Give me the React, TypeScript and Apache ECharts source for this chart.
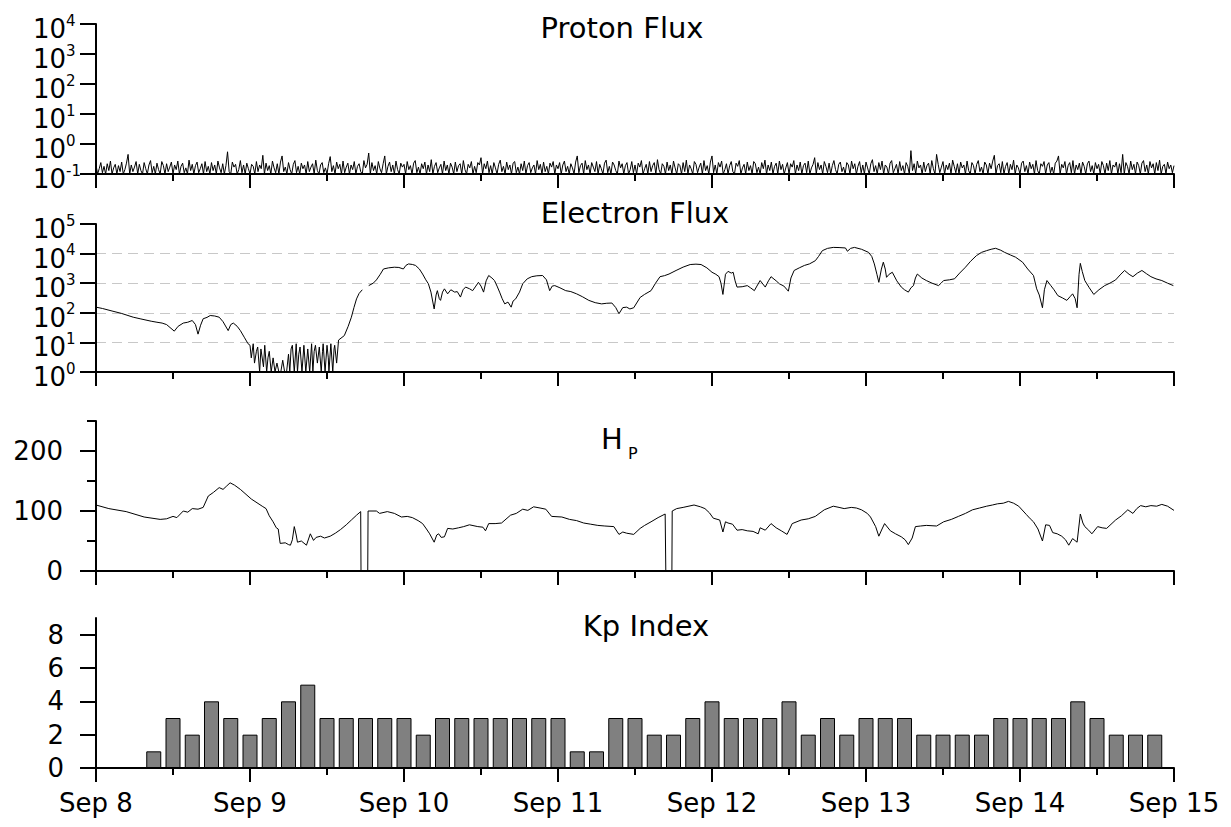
import React, { useEffect, useRef } from 'react';
import * as echarts from 'echarts';

const FONT = '"DejaVu Sans", sans-serif';

// x values are hours after Sep 8 00:00
const dayLabels = ['Sep 8', 'Sep 9', 'Sep 10', 'Sep 11', 'Sep 12', 'Sep 13', 'Sep 14', 'Sep 15'];
const titles = ['Proton Flux', 'Electron Flux', 'H', 'P', 'Kp Index'];

// Proton flux, 15-minute samples starting Sep 8 00:00 (one row = 6 hours)
const protonStep = 0.25;
const protonValues = [
  0.2,0.1,0.15,0.24,0.11,0.18,0.1,0.22,0.13,0.27,0.1,0.16,0.21,0.1,0.19,0.12,0.25,0.1,0.14,0.23,0.45,0.1,0.2,0.12,
  0.17,0.26,0.1,0.21,0.13,0.1,0.24,0.15,0.1,0.2,0.28,0.11,0.18,0.1,0.23,0.14,0.1,0.26,0.19,0.1,0.22,0.12,0.17,0.25,
  0.1,0.2,0.14,0.27,0.1,0.18,0.23,0.11,0.16,0.1,0.29,0.13,0.21,0.1,0.19,0.25,0.11,0.15,0.22,0.1,0.26,0.12,0.18,0.1,
  0.24,0.13,0.2,0.1,0.27,0.16,0.11,0.22,0.1,0.19,0.55,0.12,0.1,0.25,0.17,0.21,0.1,0.14,0.28,0.11,0.2,0.1,0.23,0.15,
  0.1,0.21,0.18,0.1,0.26,0.12,0.2,0.15,0.42,0.1,0.23,0.13,0.19,0.1,0.27,0.16,0.11,0.22,0.1,0.25,0.4,0.12,0.17,0.1,
  0.24,0.14,0.1,0.21,0.28,0.11,0.18,0.1,0.23,0.15,0.2,0.1,0.26,0.12,0.17,0.22,0.1,0.29,0.13,0.1,0.2,0.24,0.11,0.16,
  0.1,0.22,0.38,0.12,0.19,0.1,0.25,0.15,0.21,0.1,0.27,0.11,0.17,0.23,0.1,0.2,0.14,0.26,0.1,0.18,0.22,0.12,0.1,0.28,
  0.16,0.21,0.5,0.1,0.24,0.13,0.19,0.1,0.26,0.15,0.11,0.22,0.4,0.1,0.18,0.25,0.12,0.2,0.1,0.27,0.14,0.1,0.23,0.17,
  0.21,0.1,0.26,0.14,0.19,0.1,0.23,0.28,0.11,0.17,0.1,0.22,0.15,0.25,0.1,0.2,0.12,0.3,0.1,0.18,0.24,0.11,0.16,0.21,
  0.1,0.27,0.13,0.2,0.1,0.23,0.17,0.1,0.25,0.12,0.19,0.22,0.1,0.28,0.14,0.1,0.21,0.16,0.26,0.1,0.18,0.11,0.24,0.2,
  0.35,0.1,0.22,0.15,0.27,0.11,0.19,0.1,0.24,0.16,0.1,0.21,0.29,0.12,0.18,0.1,0.25,0.14,0.2,0.1,0.23,0.26,0.11,0.17,
  0.1,0.22,0.13,0.27,0.1,0.19,0.24,0.11,0.16,0.2,0.1,0.28,0.14,0.21,0.1,0.25,0.12,0.18,0.1,0.23,0.17,0.26,0.1,0.2,
  0.15,0.24,0.1,0.2,0.27,0.12,0.18,0.1,0.22,0.16,0.1,0.25,0.4,0.11,0.19,0.23,0.1,0.28,0.14,0.2,0.1,0.24,0.17,0.12,
  0.26,0.1,0.21,0.15,0.1,0.23,0.29,0.11,0.18,0.1,0.25,0.2,0.13,0.1,0.27,0.16,0.22,0.1,0.19,0.24,0.1,0.14,0.26,0.11,
  0.2,0.1,0.23,0.17,0.28,0.1,0.15,0.21,0.1,0.26,0.12,0.19,0.24,0.1,0.3,0.14,0.1,0.22,0.18,0.1,0.25,0.13,0.2,0.1,
  0.27,0.16,0.1,0.22,0.19,0.1,0.24,0.12,0.29,0.1,0.2,0.15,0.1,0.26,0.21,0.11,0.17,0.23,0.1,0.28,0.13,0.19,0.1,0.25,
  0.4,0.11,0.2,0.1,0.24,0.17,0.27,0.1,0.14,0.22,0.1,0.19,0.26,0.12,0.1,0.23,0.18,0.28,0.1,0.16,0.21,0.1,0.25,0.13,
  0.19,0.1,0.26,0.22,0.11,0.17,0.1,0.24,0.15,0.29,0.1,0.2,0.13,0.25,0.1,0.18,0.23,0.1,0.27,0.14,0.21,0.1,0.16,0.24,
  0.1,0.22,0.17,0.28,0.1,0.2,0.13,0.25,0.1,0.19,0.23,0.11,0.27,0.1,0.16,0.21,0.35,0.1,0.24,0.14,0.2,0.1,0.26,0.18,
  0.11,0.23,0.1,0.19,0.28,0.14,0.1,0.21,0.25,0.12,0.17,0.1,0.24,0.2,0.1,0.27,0.15,0.22,0.1,0.18,0.26,0.11,0.2,0.1,
  0.25,0.16,0.1,0.22,0.3,0.12,0.19,0.1,0.24,0.14,0.27,0.1,0.2,0.17,0.1,0.23,0.28,0.11,0.15,0.21,0.1,0.26,0.13,0.19,
  0.1,0.24,0.18,0.1,0.6,0.13,0.22,0.1,0.27,0.16,0.2,0.1,0.25,0.12,0.19,0.23,0.1,0.28,0.15,0.1,0.45,0.21,0.11,0.17,
  0.26,0.1,0.2,0.14,0.23,0.1,0.29,0.18,0.11,0.22,0.1,0.25,0.16,0.2,0.1,0.27,0.13,0.1,0.24,0.19,0.1,0.21,0.28,0.12,
  0.17,0.1,0.25,0.2,0.1,0.23,0.15,0.27,0.42,0.1,0.19,0.22,0.11,0.26,0.1,0.18,0.24,0.1,0.21,0.14,0.29,0.1,0.2,0.16,
  0.1,0.23,0.27,0.12,0.19,0.1,0.25,0.15,0.21,0.1,0.28,0.13,0.1,0.22,0.18,0.26,0.1,0.2,0.24,0.11,0.17,0.1,0.23,0.27,
  0.4,0.1,0.21,0.16,0.26,0.1,0.19,0.24,0.11,0.28,0.1,0.2,0.14,0.23,0.1,0.25,0.18,0.1,0.22,0.27,0.12,0.19,0.1,0.24,
  0.15,0.21,0.1,0.26,0.19,0.1,0.23,0.13,0.28,0.1,0.2,0.17,0.25,0.1,0.22,0.11,0.45,0.1,0.24,0.18,0.1,0.27,0.14,0.21,
  0.1,0.25,0.19,0.1,0.23,0.28,0.12,0.2,0.1,0.26,0.16,0.22,0.1,0.24,0.13,0.29,0.1,0.18,0.21,0.1,0.25,0.15,0.2,0.11,
  0.19,
];

// Electron flux [hour, flux]; null = data gap
const electronPoints: [number, number | null][] = [
  [0,155],[1,140],[2.5,115],[4,95],[5.8,71],[7,62],[8.6,52],[9.5,48],[10.3,45],[11,40],[12.2,24],[12.8,35],
  [13.6,45],[14.3,48],[15,55],[15.5,40],[15.9,19],[16.3,38],[16.7,63],[17.3,70],[17.8,81],[18.5,78],[19.2,71],
  [19.8,50],[20.6,25],[21,40],[21.4,45],[22,35],[22.5,25],[23.1,15],[23.7,9],
  [24.0,8],[24.2,3],[24.5,9],[24.7,2],[25.0,5],[25.2,7],[25.5,1],[25.7,6],[26.1,1.5],[26.3,8],[26.6,1],[26.8,3],
  [27.0,5],[27.3,1],[27.6,3],[27.9,1],[28.2,2],[28.5,1],[28.8,1],[29.1,2.5],[29.4,1],[29.7,1],[30.0,4],[30.2,1],
  [30.4,6],[30.6,8],[30.9,1],[31.2,9],[31.4,1],[31.6,4],[31.8,7],[32.1,1],[32.4,8],[32.6,2],[32.7,1],[33.0,6],
  [33.3,1],[33.6,9],[33.8,1],[34.0,5],[34.2,8],[34.5,2],[34.8,7],[35.1,1],[35.3,5],[35.4,9],[35.7,1],[36.0,8],
  [36.2,3],[36.3,1],[36.6,9],[36.9,1],[37.1,6],[37.2,8],[37.5,2],
  [37.8,12],[38.7,17],[39.3,35],[39.8,71],[40.2,150],[40.6,295],[41,450],[41.5,600],[42,null],
  [42.5,830],[43.2,1000],[43.7,1290],[44.3,2000],[44.8,3020],[45.6,3300],[46.5,3470],[47.2,3400],[47.9,3020],
  [48.3,4000],[48.7,4470],[49.3,4300],[49.8,3980],[50.4,3000],[50.9,2040],[51.4,1300],[51.8,955],[52.2,500],
  [52.7,135],[53,400],[53.2,560],[53.5,300],[53.7,263],[54,500],[54.3,645],[54.8,437],[55.3,600],[55.9,500],
  [56.3,520],[56.8,340],[57.2,600],[57.6,740],[58.2,650],[58.7,560],[59.2,800],[59.6,1070],[60,800],[60.4,500],
  [60.8,1200],[61.2,1820],[61.7,1500],[62.1,1230],[62.5,800],[62.9,500],[63.3,300],[63.7,200],[64.2,230],
  [64.7,155],[65,250],[65.4,295],[66,500],[66.5,955],[67.2,1400],[67.9,1660],[68.7,1780],[69.6,1820],[70.2,1300],
  [70.7,560],[71.1,800],[71.5,830],[72.3,700],[73.2,560],[74,520],[74.9,437],[75.8,350],[76.8,263],[77.8,220],
  [78.8,200],[79.6,210],[80.4,214],[81,150],[81.5,93],[82.1,150],[82.7,155],[83.2,135],[83.8,148],[84.8,330],
  [85.5,420],[86.5,560],[87.2,1000],[87.9,1660],[88.6,1800],[89.3,2040],[90.4,2690],[91.5,3500],[92.6,4270],
  [93.5,4400],[94.3,4270],[95.2,3300],[96,2340],[96.6,2000],[97.1,1660],[97.4,1000],[97.7,417],[98.1,2000],
  [98.5,2510],[99,2200],[99.3,2340],[99.6,1200],[99.9,740],[100.7,760],[101.5,830],[102,700],[102.6,560],
  [103,800],[103.5,1230],[104.3,740],[104.8,1200],[105.2,1660],[106,1200],[106.5,955],[107.2,800],[107.9,537],
  [108.3,1500],[108.8,2690],[109.6,3300],[110.4,3980],[111.2,4500],[112.1,5750],[112.6,8000],[113.2,12600],
  [114,15000],[114.9,16200],[115.8,16000],[116.8,15500],[117.1,12000],[117.6,15000],[118.2,16200],[119.3,14000],
  [120.4,11000],[120.9,8000],[121.3,4470],[121.7,2000],[122,1070],[122.4,3000],[122.7,5130],[123,3000],
  [123.2,1580],[123.6,2000],[124.1,2340],[124.8,1200],[125.5,740],[126,600],[126.6,500],[127,700],[127.4,830],
  [127.7,1500],[128,2040],[128.7,1500],[129.4,1230],[130.3,1000],[131.3,830],[131.7,1000],[132.1,1230],
  [133,1300],[133.8,1410],[134.6,2200],[135.5,3470],[136.3,5500],[137.2,8510],[138,11000],[138.8,12600],
  [139.5,14000],[140.2,15100],[141,13000],[141.6,11000],[142.5,9000],[143.3,7590],[144.4,5130],[145.2,3020],
  [146.1,1820],[146.6,645],[147,400],[147.5,148],[147.8,600],[148.2,1230],[148.8,830],[149.3,600],[149.9,380],
  [150.6,320],[151.3,263],[151.8,350],[152.2,437],[152.6,300],[152.9,148],[153.2,2000],[153.4,4680],[153.7,2500],
  [154.1,1230],[154.8,700],[155.5,417],[156.3,600],[157.2,830],[158,1000],[158.9,1290],[159.6,1900],[160.3,2690],
  [161,2000],[161.6,1660],[162.3,2200],[163,2690],[163.7,2100],[164.4,1660],[165.2,1400],[166.1,1230],
  [167,1000],[167.9,830],
];

// Hp [hour, nT]
const hpPoints: [number, number][] = [
  [0,110],[2,104],[4.7,99],[7.5,90],[10,86],[11,87],[12,91],[12.6,89],[13.6,100],[14.3,98],[15,104],[15.9,103],
  [16.7,106],[17.5,125],[18.3,131],[19.2,139],[19.8,136],[20.3,141],[20.9,147],[21.6,143],[22.5,136],[24.2,120],
  [25.9,108],[26.5,104],[27,92],[27.6,82],[28.1,72],[28.4,70],[28.7,46],[29.5,47],[30,44],[30.3,43],[30.6,52],
  [30.9,74],[31.2,60],[31.4,48],[32,50],[32.8,43],[33.4,62],[33.9,51],[34.3,56],[35,58],[35.6,55],[36.5,58],
  [37.3,63],[38.1,69],[39,77],[39.8,85],[40.6,93],[41.25,99],[41.3,0],[42.35,0],[42.4,100],[43.7,100],[44.2,96],
  [45.4,99],[46.5,96],[47.6,90],[48.5,91],[49.3,89],[50.2,84],[50.9,79],[51.5,70],[52,62],[52.7,48],[53.1,60],
  [53.4,62],[53.8,56],[54.3,57],[54.8,71],[55.6,70],[56.5,72],[57.3,74],[58.2,77],[59.5,74],[60.3,73],[60.7,67],
  [61.2,79],[62.2,79],[63.2,80],[64.6,93],[65.5,96],[66.5,103],[67.3,101],[68.2,107],[69.2,105],[70.1,103],
  [71,91],[72.6,90],[73.8,86],[74.9,84],[76,80],[77.1,78],[78.2,76],[79.3,75],[80.7,74],[81.5,61],[82.1,65],
  [82.7,63],[83.8,61],[84.8,71],[85.5,76],[86.5,82],[87.6,89],[88.7,95],[88.75,96],[88.8,0],[89.75,0],[89.8,100],
  [90.5,104],[91.5,106],[93.2,110],[94.2,107],[94.9,104],[95.6,97],[96.2,88],[97.2,85],[97.7,65],[98.1,82],
  [98.5,80],[99.2,78],[99.9,68],[100.7,69],[101.5,67],[102.4,66],[103.2,62],[103.5,72],[104.3,68],[105.2,79],
  [106,72],[106.8,67],[107.7,61],[108.5,79],[109.9,85],[111,87],[112.1,91],[113.5,102],[114.9,108],[115.8,106],
  [116.6,104],[117.7,106],[118.5,105],[119.3,102],[120.2,96],[120.7,90],[121.5,74],[122,58],[122.5,70],
  [122.9,79],[123.8,67],[124.6,62],[125.5,57],[126.1,52],[126.6,44],[127.2,55],[127.7,74],[128.5,75],[129.4,76],
  [131,75],[132.1,82],[133.3,86],[134.4,91],[135.5,96],[136.6,102],[137.7,105],[138.8,108],[139.7,110],
  [140.5,112],[141.4,113],[142.2,116],[143,113],[143.8,108],[145,94],[145.6,87],[146.1,82],[146.8,70],[147.5,50],
  [148,77],[148.6,76],[149.1,64],[149.8,62],[150.5,58],[151.1,52],[151.6,43],[152.2,54],[152.9,48],[153.4,95],
  [153.8,80],[154.1,74],[154.7,68],[155.2,62],[156.1,74],[156.8,72],[157.5,71],[158.9,85],[159.8,92],[160.8,102],
  [161.6,96],[162.2,104],[162.8,109],[163.6,107],[164.4,109],[165.3,108],[166.1,111],[167,108],[168,101],
];

// Kp index, 3-hour slots starting Sep 8 00:00 (null = no bar)
const kpStep = 3;
const kpValues: (number | null)[] = [
  null, null, null, 1, 3, 2, 4, 3,
  2, 3, 4, 5, 3, 3, 3, 3,
  3, 2, 3, 3, 3, 3, 3, 3,
  3, 1, 1, 3, 3, 2, 2, 3,
  4, 3, 3, 3, 4, 2, 3, 2,
  3, 3, 3, 2, 2, 2, 2, 3,
  3, 3, 3, 4, 3, 2, 2, 2,
];

const protonRange = [0.1, 10000];
const electronRange = [1, 100000];
const hpMajorTicks = [0, 100, 200];
const hpMinorTicks = [50, 150, 250];
const kpTicks = [0, 2, 4, 6, 8];

const BLACK = '#000';

function buildOption() {
  const grids = [
    { left: 96, top: 24, width: 1078, height: 150 },
    { left: 96, top: 224, width: 1078, height: 148 },
    { left: 96, top: 421, width: 1078, height: 150 },
    { left: 96, top: 618, width: 1078, height: 150 },
  ].map((g) => ({ ...g, containLabel: false, outerBoundsMode: 'none' }));

  const xAxis = grids.map((_, i) => ({
    type: 'value',
    gridIndex: i,
    min: 0,
    max: 168,
    interval: 24,
    axisLine: { show: true, onZero: false, lineStyle: { color: BLACK, width: 2 } },
    axisTick: { show: true, length: 14, lineStyle: { color: BLACK, width: 2 } },
    minorTick: { show: true, splitNumber: 2, length: 7, lineStyle: { color: BLACK, width: 2 } },
    splitLine: { show: false },
    minorSplitLine: { show: false },
    axisLabel:
      i === 3
        ? {
            show: true,
            showMinLabel: true,
            showMaxLabel: true,
            formatter: (v: number) => dayLabels[Math.round(v / 24)] ?? '',
            fontSize: 26,
            fontFamily: FONT,
            color: BLACK,
            margin: 22,
          }
        : { show: false },
  }));

  const powLabel = (v: number) => `{b|10}{s|${Math.round(Math.log10(v))}}`;
  const logRich = {
    b: { fontSize: 26, fontFamily: FONT, color: BLACK, lineHeight: 26, padding: [10, 0, 0, 0] },
    s: { fontSize: 15, fontFamily: FONT, color: BLACK, lineHeight: 15, verticalAlign: 'top', padding: [2, 0, 0, 0] },
  };
  const axisLineStyle = { show: true, onZero: false, lineStyle: { color: BLACK, width: 2 } };
  const majorTick = { show: true, length: 16, lineStyle: { color: BLACK, width: 2 } };

  // Each log panel uses two overlaid axes: one labels the inner decades, the other only the two end decades,
  // so that ECharts never drops a label because of min/max overlap handling.
  const logAxes = (gridIndex: number, range: number[], withGrid: boolean) => {
    const [lo, hi] = range;
    const isEnd = (v: number) => Math.abs(Math.log10(v) - Math.log10(lo)) < 1e-6 || Math.abs(Math.log10(v) - Math.log10(hi)) < 1e-6;
    const common = { type: 'log', logBase: 10, gridIndex, min: lo, max: hi, interval: 1, position: 'left' };
    return [
      {
        ...common,
        axisLine: axisLineStyle,
        axisTick: majorTick,
        splitLine: withGrid
          ? { show: true, showMinLine: false, showMaxLine: false, lineStyle: { color: '#c8c8c8', width: 1, type: [10, 6] } }
          : { show: false },
        axisLabel: {
          formatter: (v: number) => (isEnd(v) ? '' : powLabel(v)),
          align: 'left', margin: 63, rich: logRich,
          showMinLabel: false, showMaxLabel: false, hideOverlap: false,
        },
      },
      {
        ...common,
        axisLine: { show: false },
        axisTick: majorTick,
        splitLine: { show: false },
        axisLabel: {
          formatter: (v: number) => (isEnd(v) ? powLabel(v) : ''),
          align: 'left', margin: 63, rich: logRich,
          showMinLabel: true, showMaxLabel: true, hideOverlap: false,
        },
      },
    ];
  };

  const yAxis: any[] = [
    ...logAxes(0, protonRange, false), // 0, 1
    ...logAxes(1, electronRange, true), // 2, 3
    {
      type: 'value', gridIndex: 2, min: 0, max: 250, position: 'left', // 4
      axisLine: axisLineStyle,
      axisTick: { ...majorTick, customValues: hpMajorTicks },
      splitLine: { show: false },
      axisLabel: { customValues: hpMajorTicks, fontSize: 26, fontFamily: FONT, color: BLACK, margin: 33 },
    },
    {
      type: 'value', gridIndex: 2, min: 0, max: 250, position: 'left', // 5
      axisLine: { show: false },
      axisTick: { show: true, length: 9, lineStyle: { color: BLACK, width: 2 }, customValues: hpMinorTicks },
      splitLine: { show: false },
      axisLabel: { show: false },
    },
    {
      type: 'value', gridIndex: 3, min: 0, max: 9, position: 'left', // 6
      axisLine: axisLineStyle,
      axisTick: { ...majorTick, customValues: kpTicks },
      splitLine: { show: false },
      axisLabel: { customValues: kpTicks, fontSize: 26, fontFamily: FONT, color: BLACK, margin: 32 },
    },
  ];

  const protonData = protonValues.map((v, i) => [i * protonStep, v]);
  const electronData = electronPoints.map(([h, v]) => [h, v === null ? '-' : v]);
  const kpData = kpValues
    .map((v, i) => (v === null ? null : [i * kpStep, v]))
    .filter((d) => d !== null);

  const lineBase = {
    type: 'line',
    showSymbol: false,
    symbol: 'none',
    silent: true,
    connectNulls: false,
    lineStyle: { color: BLACK, width: 1 },
    itemStyle: { color: BLACK },
  };

  const series = [
    { ...lineBase, xAxisIndex: 0, yAxisIndex: 0, data: protonData },
    { ...lineBase, xAxisIndex: 1, yAxisIndex: 2, data: electronData },
    { ...lineBase, xAxisIndex: 2, yAxisIndex: 4, data: hpPoints },
    {
      type: 'bar', xAxisIndex: 3, yAxisIndex: 6, data: kpData, barWidth: 15, silent: true,
      itemStyle: { color: '#808080', borderColor: BLACK, borderWidth: 1 },
    },
  ];

  const titleFont = `29px ${FONT}`;
  const textStyle = (text: string, font: string, align: string) => ({ text, font, fill: BLACK, align, verticalAlign: 'middle' });
  const graphic = [
    { type: 'text', x: 622, y: 28, style: textStyle(titles[0], titleFont, 'center') },
    { type: 'text', x: 635, y: 213, style: textStyle(titles[1], titleFont, 'center') },
    { type: 'text', x: 601, y: 439, style: textStyle(titles[2], titleFont, 'left') },
    { type: 'text', x: 628, y: 453, style: textStyle(titles[3], `16px ${FONT}`, 'left') },
    { type: 'text', x: 646, y: 626, style: textStyle(titles[4], titleFont, 'center') },
  ];

  return {
    animation: false,
    backgroundColor: '#ffffff',
    grid: grids,
    xAxis,
    yAxis,
    series,
    graphic,
  };
}

export default function App() {
  const ref = useRef<HTMLDivElement>(null);
  useEffect(() => {
    if (!ref.current) return;
    const chart = echarts.init(ref.current, null, { renderer: 'svg' });
    chart.setOption(buildOption() as any);
    return () => chart.dispose();
  }, []);
  return (
    <div
      ref={ref}
      style={{ position: 'fixed', left: 0, top: 0, width: 1231, height: 827, background: '#fff' }}
    />
  );
}
